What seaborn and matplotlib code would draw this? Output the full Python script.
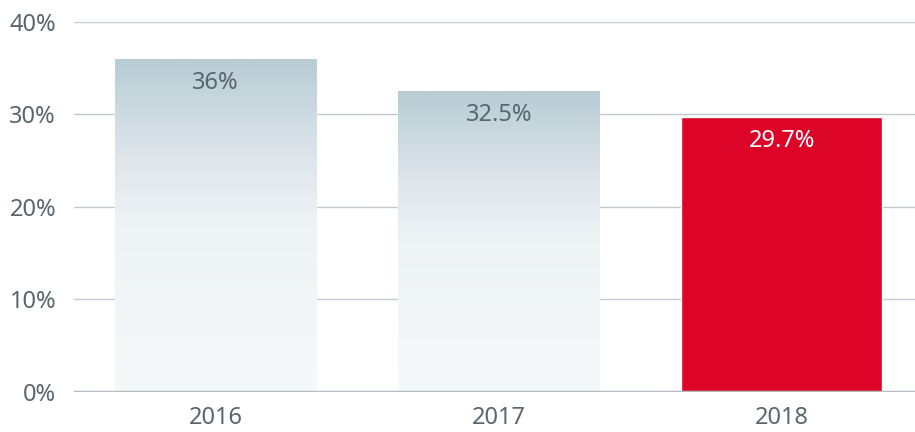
import numpy as np
import pandas as pd
import matplotlib
matplotlib.use("Agg")
import matplotlib.pyplot as plt
import seaborn as sns
from matplotlib.colors import LinearSegmentedColormap

# Data
years = ["2016", "2017", "2018"]
values = [36.0, 32.5, 29.7]
labels = ["36%", "32.5%", "29.7%"]

df = pd.DataFrame({"year": years, "value": values})

sns.set_theme(style="white")
plt.rcParams["font.family"] = ["Noto Sans", "DejaVu Sans"]

text_col = "#5a666e"
fig = plt.figure(figsize=(9.15, 4.32), dpi=100)
ax = fig.add_axes([0.081, 0.093, 0.919, 0.856])

sns.barplot(data=df, x="year", y="value", ax=ax, width=0.71,
            palette=["#dde6ea", "#dde6ea", "#dc0528"], hue="year",
            legend=False, saturation=1, zorder=3)

ax.set_xlabel("")
ax.set_ylabel("")
ax.set_yticks([0, 10, 20, 30, 40])
ax.set_yticklabels(["0%", "10%", "20%", "30%", "40%"])
ax.tick_params(axis="both", length=0, labelsize=17, colors=text_col)
ax.tick_params(axis="y", pad=13)
ax.tick_params(axis="x", pad=10)
for s in ax.spines.values():
    s.set_visible(False)
ax.grid(axis="y", color="#c3c9cd", linewidth=1, zorder=0)
ax.axhline(0, color="#b4bcc2", linewidth=2.5, zorder=4)

# Gradient fill for the first two bars
cmap = LinearSegmentedColormap.from_list(
    "g", [(0, "#f6f9fa"), (0.5, "#eef3f5"), (0.7, "#dfe6ec"), (1, "#b8ccd4")])
grad = np.linspace(0, 1, 256).reshape(-1, 1)
for bar in ax.patches[:2]:
    x0, y0 = bar.get_x(), bar.get_y()
    w, h = bar.get_width(), bar.get_height()
    bar.set_facecolor("none")
    im = ax.imshow(grad, cmap=cmap, aspect="auto", origin="lower",
                   extent=[x0, x0 + w, y0, y0 + h], zorder=3)
    im.set_clip_path(bar)
ax.set_xlim(-0.5, 2.47)
ax.set_ylim(0, 40)

for i, (v, lab) in enumerate(zip(values, labels)):
    ax.text(i, v - 2.6, lab, ha="center", va="center", fontsize=17,
            color="white" if i == 2 else text_col, zorder=5)

fig.savefig("out.png", dpi=100)
